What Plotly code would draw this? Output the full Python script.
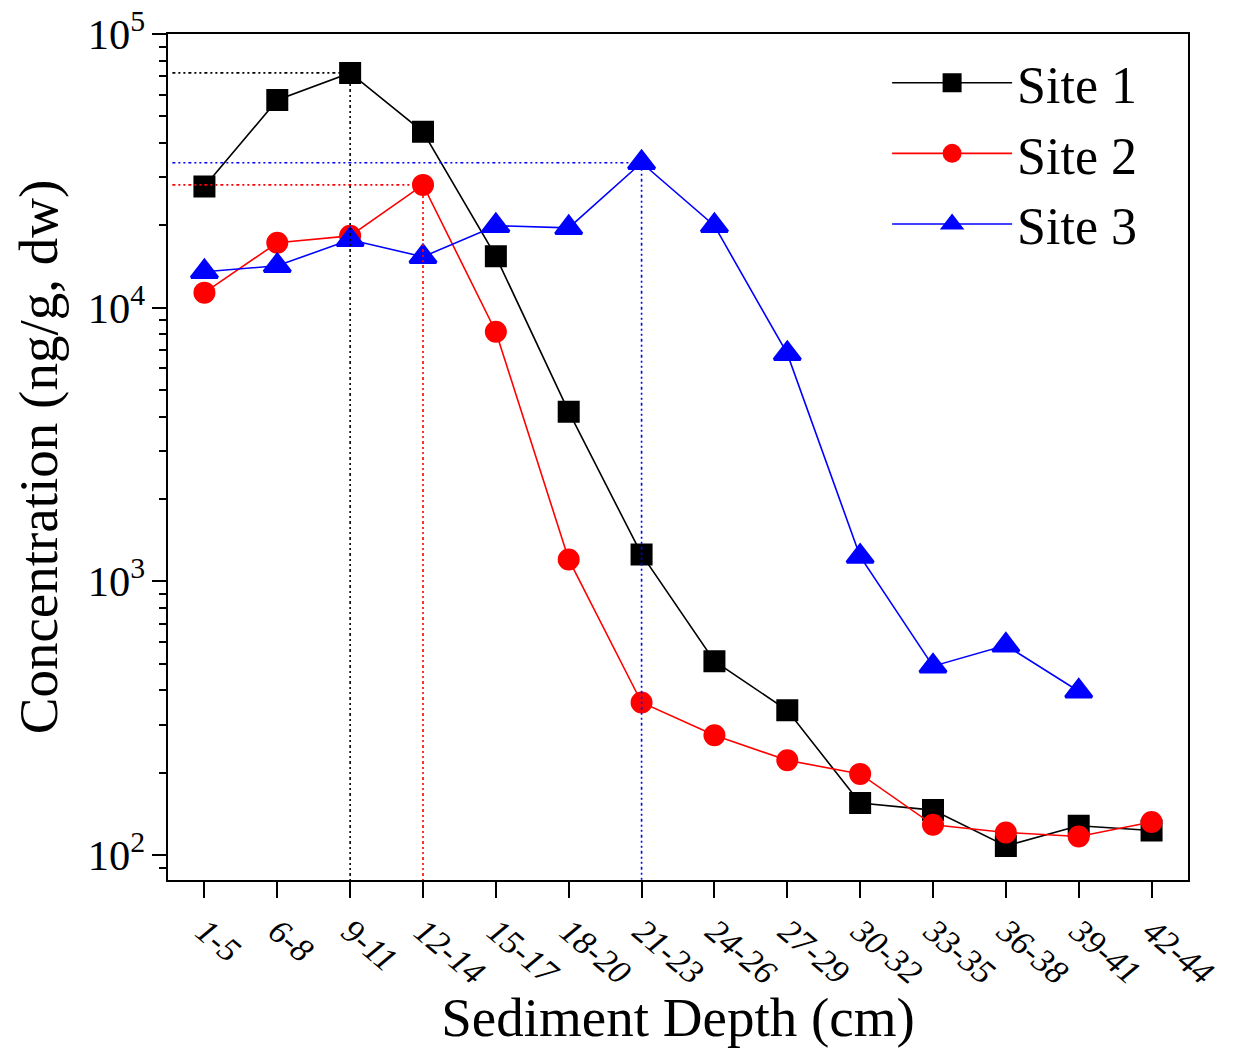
import plotly.graph_objects as go

depths = ["1-5", "6-8", "9-11", "12-14", "15-17", "18-20", "21-23", "24-26",
          "27-29", "30-32", "33-35", "36-38", "39-41", "42-44"]
site1 = [27700, 57400, 72100, 43900, 15400, 4170, 1255, 511, 338, 155, 146, 108, 128, 123]
site2 = [11350, 17270, 18300, 28100, 8170, 1203, 361, 274, 222, 198, 129, 121, 117, 132]
site3 = [13530, 14230, 17700, 15350, 19930, 19580, 33850, 19930, 6790, 1234, 490, 584, 397]

FONT = "Liberation Serif"
idx = list(range(len(depths)))

fig = go.Figure()
styles = [
    ("Site 1", site1, "black", "square", 19),
    ("Site 2", site2, "red", "circle", 19),
    ("Site 3", site3, "blue", "triangle-up", 23),
]
for name, vals, col, sym, sz in styles:
    fig.add_trace(go.Scatter(
        x=idx[:len(vals)], y=vals, name=name, mode="lines+markers",
        line=dict(color=col, width=1.6),
        marker=dict(symbol=sym, size=sz, color=col, line=dict(width=3, color=col)),
    ))

# dotted guide lines to each site's peak
xmin, xmax = -0.5, 13.5
ymin_log, ymax_log = 1.909, 5.0
for name, vals, col, sym, sz in styles:
    k = max(range(len(vals)), key=lambda i: vals[i])
    fig.add_trace(go.Scatter(
        x=[xmin + 0.06, k], y=[vals[k], vals[k]], mode="lines",
        line=dict(color=col, width=1.6, dash="3px,3px,2px,3px,2px,3px"),
        showlegend=False, hoverinfo="skip"))
    fig.add_trace(go.Scatter(
        x=[k, k], y=[vals[k], 10 ** ymin_log], mode="lines",
        line=dict(color=col, width=1.6, dash="3px,3px,2px,3px,2px,3px"),
        showlegend=False, hoverinfo="skip"))

fig.update_layout(
    width=1228, height=1040,
    margin=dict(l=160, r=48, t=26, b=168),
    paper_bgcolor="white", plot_bgcolor="white",
    font=dict(family=FONT, color="black"),
    legend=dict(x=0.705, y=0.99, xanchor="left", yanchor="top",
                font=dict(family=FONT, size=52, color="black"),
                itemwidth=120, bgcolor="rgba(0,0,0,0)", tracegroupgap=0),
)
fig.update_xaxes(
    range=[xmin, xmax], tickmode="array", tickvals=idx, ticktext=depths,
    tickangle=40, tickfont=dict(family=FONT, size=34, style="italic"),
    ticks="outside", ticklen=16, tickwidth=2, tickcolor="black",
    showline=True, linecolor="black", linewidth=2, mirror=True,
    showgrid=False, zeroline=False, automargin=False,
    title=dict(text="Sediment Depth (cm)", font=dict(family=FONT, size=55), standoff=6),
)
fig.update_yaxes(
    type="log", range=[ymin_log, ymax_log], dtick=1, exponentformat="power",
    tickfont=dict(family=FONT, size=34), ticklabeloverflow="allow",
    ticks="outside", ticklen=14, tickwidth=2, tickcolor="black",
    minor=dict(ticks="outside", ticklen=7, tickwidth=2, tickcolor="black", dtick="D1", showgrid=False),
    showline=True, linecolor="black", linewidth=2, mirror=True,
    showgrid=False, zeroline=False, automargin=False,
    title=dict(text="Concentration (ng/g, dw)", font=dict(family=FONT, size=55), standoff=20),
)

fig.write_html("out.html")
